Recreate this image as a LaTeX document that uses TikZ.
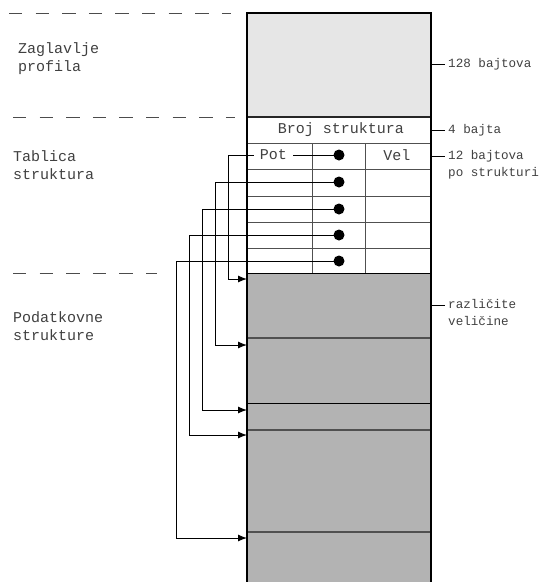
\documentclass[tikz,border=0pt]{standalone}
\usepackage{fontspec}
\newfontfamily\mono{Liberation Mono}
\usetikzlibrary{arrows.meta}
\definecolor{hdrfill}{HTML}{E6E6E6}
\definecolor{datfill}{HTML}{B3B3B3}
\definecolor{txt}{HTML}{404040}
\definecolor{gline}{HTML}{505050}
\begin{document}
\begin{tikzpicture}[x=1pt,y=-1pt,
  lbl/.style={font=\mono\fontsize{15}{18}\selectfont, text=txt, align=left, anchor=west, inner sep=0},
  rlbl/.style={font=\mono\fontsize{12.6}{17}\selectfont, text=txt, align=left, anchor=west, inner sep=0},
  cell/.style={font=\mono\fontsize{15}{18}\selectfont, text=txt, inner sep=0},
  dot/.style={circle, fill=black, inner sep=0, minimum size=11pt},
  grid/.style={draw=gline, line width=1pt},
  border/.style={draw=black, line width=1.3pt},
  sep/.style={draw=black!70, dash pattern=on 13.3pt off 13.3pt, line width=1pt},
  conn/.style={draw=black, line width=1pt},
  arr/.style={conn, -{Latex[length=9pt,width=7pt]}},
  tick/.style={draw=black, line width=1pt}
]
\useasboundingbox (0,0) rectangle (542,582);
% dashed separators
\draw[sep] (9,13) -- (231,13);
\draw[sep] (13,117) -- (235,117);
\draw[sep] (13,273) -- (157,273);
% fills
\fill[hdrfill] (247,13) rectangle (431,117);
\fill[datfill] (247,273) rectangle (431,582);
% table rows
\foreach \y in {143,169,196,222,248} \draw[grid] (247,\y) -- (431,\y);
\draw[grid] (312,143) -- (312,273);
\draw[grid] (365,143) -- (365,273);
\draw[border, line width=1.6pt, draw=black!85] (247,117) -- (431,117);
\draw[grid, draw=black] (247,273) -- (431,273);
% data dividers
\draw[grid, line width=1.4pt] (247,338) -- (431,338);
\draw[grid, draw=black] (247,403) -- (431,403);
\draw[grid, line width=1.4pt] (247,430) -- (431,430);
\draw[grid, line width=1.4pt] (247,532) -- (431,532);
% outer border
\draw[border] (247,582) -- (247,13) -- (431,13) -- (431,582);
% cell texts
\node[cell] (broj) at (341,130) {Broj struktura};
\node[cell, inner xsep=6pt] (pot) at (273.5,155) {Pot};
\node[cell] (vel) at (397,155) {Vel};
% dots
\node[dot] (d1) at (339,155) {};
\node[dot] (d2) at (339,182) {};
\node[dot] (d3) at (339,209) {};
\node[dot] (d4) at (339,235) {};
\node[dot] (d5) at (339,261) {};
% targets
\coordinate (s1) at (247,279);
\coordinate (s2) at (247,345);
\coordinate (s3) at (247,410);
\coordinate (s4) at (247,435);
\coordinate (s5) at (247,538);
% bends
\coordinate (b1) at (228,155);
\coordinate (b2) at (215,182);
\coordinate (b3) at (202,209);
\coordinate (b4) at (189,235);
\coordinate (b5) at (176,261);
% pointers
\draw[conn] (d1.center) -- (pot.east);
\draw[arr] (pot.west) -- (b1) |- (s1);
\draw[arr] (d2.center) -- (b2) |- (s2);
\draw[arr] (d3.center) -- (b3) |- (s3);
\draw[arr] (d4.center) -- (b4) |- (s4);
\draw[arr] (d5.center) -- (b5) |- (s5);
% left labels
\node[lbl] (zag) at (18,59) {Zaglavlje\\profila};
\node[lbl] (tab) at (13,165) {Tablica\\struktura};
\node[lbl] (pod) at (13,326) {Podatkovne\\strukture};
% right labels
\coordinate (e1) at (431,64);
\coordinate (e2) at (431,130);
\coordinate (e3) at (431,156);
\coordinate (e4) at (431,305);
\node[rlbl] (r1) at (448,64) {128 bajtova};
\node[rlbl] (r2) at (448,130) {4 bajta};
\node[rlbl] (r3) at (448,164.5) {12 bajtova\\po strukturi};
\node[rlbl] (r4) at (448,312) {različite\\veličine};
\draw[tick] (e1) -- ++(14,0);
\draw[tick] (e2) -- ++(14,0);
\draw[tick] (e3) -- ++(14,0);
\draw[tick] (e4) -- ++(14,0);
\end{tikzpicture}
\end{document}
